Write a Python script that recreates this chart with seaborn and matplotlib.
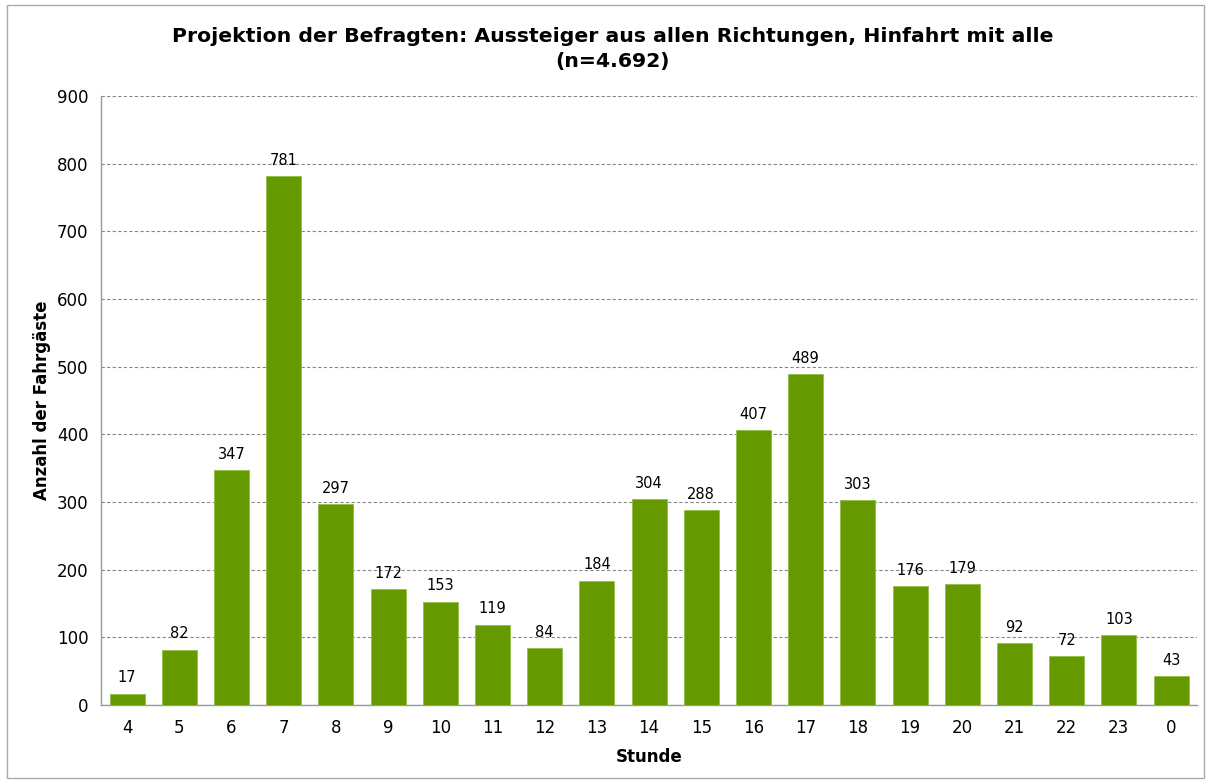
import matplotlib
matplotlib.use("Agg")
import matplotlib.pyplot as plt
import seaborn as sns
import pandas as pd
import numpy as np
from matplotlib.patches import Rectangle

# Data
stunden = ['4', '5', '6', '7', '8', '9', '10', '11', '12', '13', '14',
           '15', '16', '17', '18', '19', '20', '21', '22', '23', '0']
fahrgaeste = [17, 82, 347, 781, 297, 172, 153, 119, 84, 184, 304,
              288, 407, 489, 303, 176, 179, 92, 72, 103, 43]
y_ticks = [0, 100, 200, 300, 400, 500, 600, 700, 800, 900]

title = 'Projektion der Befragten: Aussteiger aus allen Richtungen, Hinfahrt mit alle\n(n=4.692)'

df = pd.DataFrame({'Stunde': stunden, 'Anzahl': fahrgaeste})

sns.set_style('white')
plt.rcParams['font.family'] = ['DejaVu Sans']
plt.rcParams['text.color'] = 'black'
plt.rcParams['xtick.labelcolor'] = 'black'
plt.rcParams['ytick.labelcolor'] = 'black'
plt.rcParams['axes.labelcolor'] = 'black'

fig = plt.figure(figsize=(12.08, 7.8), dpi=100)
ax = fig.add_axes([0.0836, 0.096, 0.9074, 0.781])

sns.barplot(data=df, x='Stunde', y='Anzahl', order=stunden, color='#669900',
            saturation=1, width=0.67, ax=ax, zorder=3, edgecolor='#8fbf4a', linewidth=0.6)

for i, v in enumerate(fahrgaeste):
    ax.text(i, v + 12, str(v), ha='center', va='bottom', fontsize=10.5, color='black')

ax.set_ylim(0, 900)
ax.set_xlim(-0.5, len(stunden) - 0.5)
ax.set_yticks(y_ticks)
ax.yaxis.grid(True, linestyle=(0, (3, 2)), color='#888888', linewidth=0.8, zorder=0)
ax.set_axisbelow(True)

# tick marks between categories on x, labels centred
ax.set_xticks(np.arange(-0.5, len(stunden)), minor=True)
ax.tick_params(axis='x', which='major', length=0, labelsize=12, pad=10)
ax.tick_params(axis='x', which='minor', length=5, color='#999999', width=1)
ax.tick_params(axis='y', which='major', length=5, color='#999999', labelsize=12, pad=4)

for side in ['top', 'right']:
    ax.spines[side].set_visible(False)
for side in ['left', 'bottom']:
    ax.spines[side].set_color('#999999')
    ax.spines[side].set_linewidth(1)

ax.set_xlabel('Stunde', fontsize=12, fontweight='bold', labelpad=8)
ax.set_ylabel('Anzahl der Fahrgäste', fontsize=12, fontweight='bold', labelpad=4)
fig.suptitle(title, fontsize=14.7, fontweight='bold', x=0.507, y=0.966, linespacing=1.45)

# outer chart frame
fig.patches.append(Rectangle((0.006, 0.003), 0.991, 0.99, transform=fig.transFigure,
                             fill=False, edgecolor='#aaaaaa', linewidth=1))

plt.savefig('out.png', dpi=100)
